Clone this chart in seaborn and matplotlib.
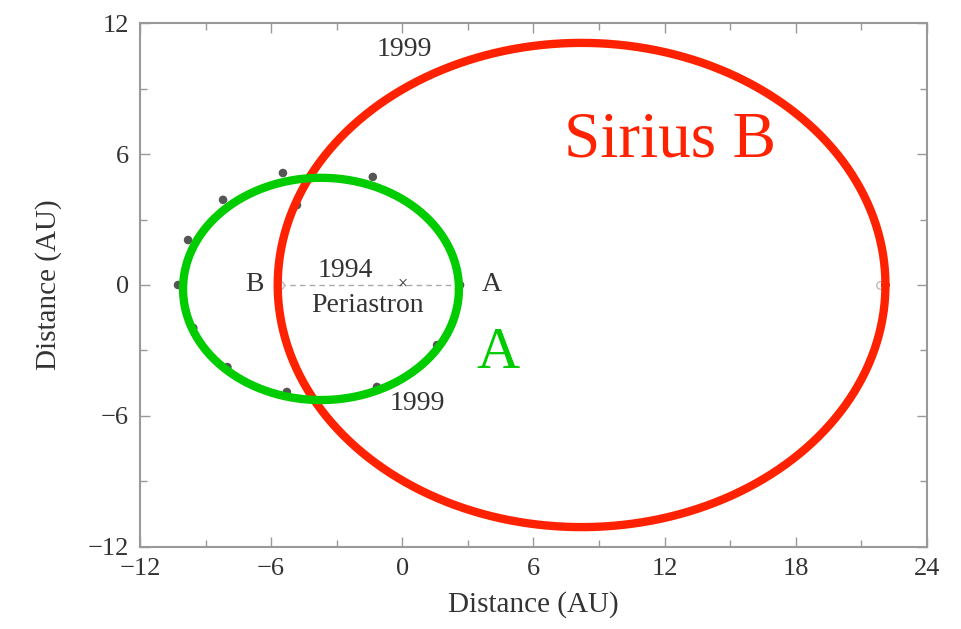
import numpy as np
import pandas as pd
import matplotlib
matplotlib.use("Agg")
import matplotlib.pyplot as plt
import seaborn as sns
from matplotlib.ticker import MultipleLocator

# ---- data ----
orbit_names = ["A", "Sirius B"]
orbit_cx = [-3.72, 8.2]
orbit_cy = [-0.18, 0.0]
orbit_a = [6.31, 13.9]
orbit_b = [5.09, 11.09]
orbit_colors = ["#00cc00", "#ff2200"]

obs_x = [-5.46, -1.35, -8.2, -9.8, -10.26, -9.56, -8.0, -5.28, -1.16, 1.59, 2.64, -4.82]
obs_y = [5.13, 4.95, 3.9, 2.06, 0.0, -1.97, -3.76, -4.9, -4.67, -2.75, 0.0, 3.66]

apsis_x = [-5.6, 2.64]
apsis_y = [0.0, 0.0]
far_x = [21.85]
far_y = [0.0]

xticks = [-12, -6, 0, 6, 12, 18, 24]
yticks = [-12, -6, 0, 6, 12]

sns.set_style("white")
plt.rcParams["font.family"] = ["Liberation Serif", "DejaVu Serif"]

fig = plt.figure(figsize=(9.62, 6.29), dpi=100)
ax = fig.add_axes([0.1455, 0.1304, 0.8181, 0.833])

t = np.linspace(0, 2 * np.pi, 400)
rows = []
for name, cx, cy, a, b in zip(orbit_names, orbit_cx, orbit_cy, orbit_a, orbit_b):
    for i, tt in enumerate(t):
        rows.append({"orbit": name, "i": i, "x": cx + a * np.cos(tt), "y": cy + b * np.sin(tt)})
df = pd.DataFrame(rows)

# dashed line of apsides
sns.lineplot(x=apsis_x, y=apsis_y, ax=ax, color="#aaaaaa", lw=1.0,
             linestyle=(0, (4, 3)), sort=False, estimator=None, zorder=1)
# observation dots
sns.scatterplot(x=obs_x, y=obs_y, ax=ax, color="#555555", s=38, edgecolor="none", zorder=2)
sns.scatterplot(x=far_x + [apsis_x[0]], y=far_y + [apsis_y[0]], ax=ax, facecolor="white",
                edgecolor="#bbbbbb", s=30, linewidth=1, zorder=2)

for name, col in zip(orbit_names[::-1], orbit_colors[::-1]):
    sub = df[df["orbit"] == name]
    sns.lineplot(data=sub, x="x", y="y", ax=ax, sort=False, estimator=None,
                 color=col, lw=6, zorder=3)

ax.set_xlim(-12, 24)
ax.set_ylim(-12, 12)
ax.set_xticks(xticks)
ax.set_yticks(yticks)
ax.set_xticklabels([str(v).replace("-", "\u2212") for v in xticks])
ax.set_yticklabels([str(v).replace("-", "\u2212") for v in yticks])
ax.xaxis.set_minor_locator(MultipleLocator(3))
ax.yaxis.set_minor_locator(MultipleLocator(3))
ax.tick_params(which="both", direction="in", bottom=True, left=True, top=True, right=True,
               color="#999999", labelsize=19, labelcolor="#333333", pad=8)
ax.tick_params(which="major", length=7, width=1)
ax.tick_params(which="minor", length=5, width=1)
for s in ax.spines.values():
    s.set_color("#999999")
    s.set_linewidth(1.5)

ax.set_xlabel("Distance (AU)", fontsize=21, color="#333333", labelpad=8)
ax.set_ylabel("Distance (AU)", fontsize=21, color="#333333", labelpad=18)

tc = "#333333"
fs = 20
ax.text(-6.35, 0.0, "B", fontsize=fs, color=tc, ha="right", va="center")
ax.text(-2.6, 0.65, "1994", fontsize=fs, color=tc, ha="center", va="center")
ax.text(-1.6, -0.95, "Periastron", fontsize=fs, color=tc, ha="center", va="center")
ax.text(0.0, 0.05, "\u00d7", fontsize=13, color=tc, ha="center", va="center")
ax.text(3.65, 0.0, "A", fontsize=fs, color=tc, ha="left", va="center")
ax.text(0.1, 10.8, "1999", fontsize=fs, color=tc, ha="center", va="center")
ax.text(0.67, -5.45, "1999", fontsize=fs, color=tc, ha="center", va="center")
ax.text(12.25, 6.6, "Sirius B", fontsize=47, color="#ff2200", ha="center", va="center")
ax.text(4.4, -3.15, "A", fontsize=43, color="#00cc00", ha="center", va="center")

fig.savefig("out.png", dpi=100)
